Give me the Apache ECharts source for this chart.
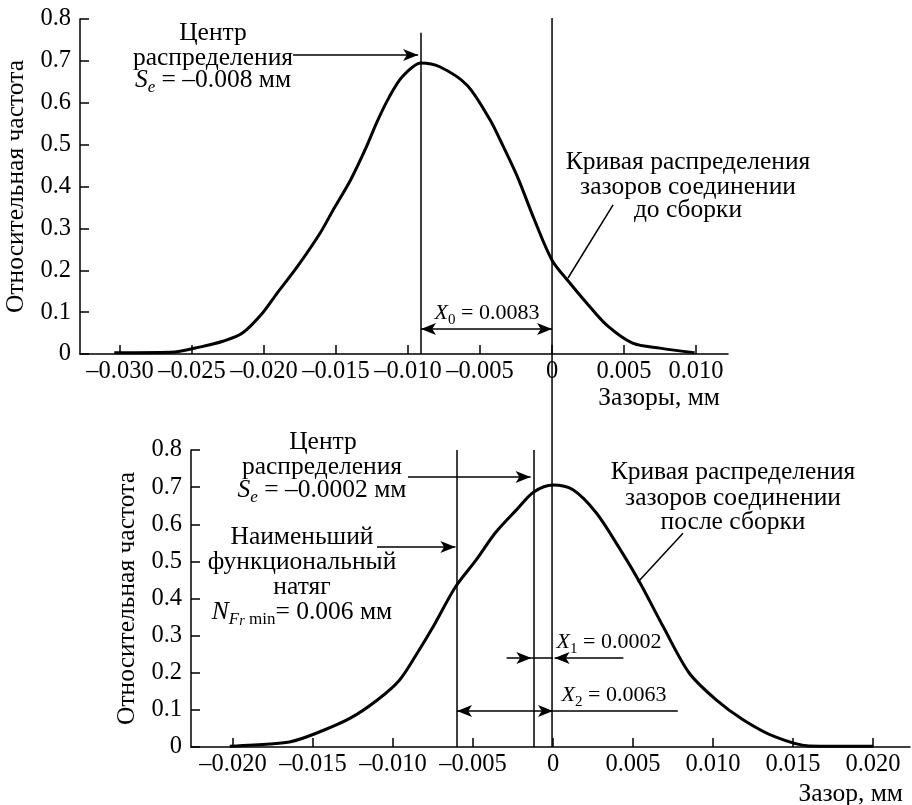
<!DOCTYPE html>
<html>
<head>
<meta charset="utf-8">
<script src="https://cdn.jsdelivr.net/npm/echarts@6/dist/echarts.min.js"></script>
<style>
html, body { margin: 0; padding: 0; background: #fff; }
#main { width: 912px; height: 805px; }
</style>
</head>
<body>
<div id="main"></div>
<script>
// кривая до сборки
var topX = [-0.0304, -0.0265, -0.0244, -0.0228, -0.0215, -0.0201, -0.0191, -0.0177, -0.0161, -0.0152,
    -0.0140, -0.0129, -0.0122, -0.0113, -0.0104, -0.0091, -0.0078, -0.0059, -0.0043, -0.0036,
    -0.0024, -0.0013, 0, 0.00125, 0.0024, 0.0038, 0.0056, 0.0075, 0.0099];
var topY = [0.003, 0.004, 0.017, 0.031, 0.05, 0.098, 0.145, 0.208, 0.289, 0.344,
    0.415, 0.494, 0.551, 0.614, 0.662, 0.695, 0.686, 0.642, 0.559, 0.511,
    0.423, 0.327, 0.224, 0.169, 0.122, 0.069, 0.026, 0.014, 0.003];
// кривая после сборки
var botX = [-0.0202, -0.0177, -0.0164, -0.0148, -0.0127, -0.0110, -0.0096, -0.0085, -0.0075, -0.0061,
    -0.0048, -0.0036, -0.0023, -0.0012, 0, 0.00125, 0.0027, 0.0041, 0.0054, 0.0069,
    0.0085, 0.0102, 0.0119, 0.0139, 0.0160, 0.0200];
var botY = [0.002, 0.008, 0.014, 0.037, 0.077, 0.126, 0.18, 0.252, 0.323, 0.431,
    0.504, 0.577, 0.638, 0.687, 0.706, 0.693, 0.631, 0.539, 0.445, 0.323,
    0.2, 0.127, 0.073, 0.027, 0.003, 0.002];

var topTicks = [-0.030, -0.025, -0.020, -0.015, -0.010, -0.005, 0, 0.005, 0.010];
var botTicks = [-0.020, -0.015, -0.010, -0.005, 0, 0.005, 0.010, 0.015, 0.020];

// положения вертикальных линий (по рисунку)
var topCenter = -0.0091;
var botCenter = -0.0012;
var botNmin = -0.006;

var FONT = 'Liberation Serif';
var FS = 25.5;    // подписи
var TFS = 24.5;   // деления
var XFS = 22;     // X0, X1, X2

function pairs(xs, ys) {
    var res = [];
    for (var i = 0; i < xs.length; i++) res.push([xs[i], ys[i]]);
    return res;
}
function fmtX(v) {
    if (Math.abs(v) < 1e-9) return '0';
    return (v < 0 ? '\u2013' : '') + Math.abs(v).toFixed(3);
}
function fmtY(v) {
    return v === 0 ? '0' : v.toFixed(1);
}

function xAxisOf(grid, min, max, ticks, name, pad) {
    return {
        type: 'value', gridIndex: grid, min: min, max: max,
        name: name, nameLocation: 'end', nameGap: 0,
        nameTextStyle: { color: '#000', fontFamily: FONT, fontSize: FS, align: 'right', verticalAlign: 'top', padding: pad },
        axisLine: { onZero: false, lineStyle: { color: '#000', width: 1.5 } },
        axisTick: { inside: true, length: 9, customValues: ticks, lineStyle: { color: '#000', width: 1.5 } },
        axisLabel: { customValues: ticks, formatter: fmtX, color: '#000', fontFamily: FONT, fontSize: TFS, margin: 5 },
        splitLine: { show: false }
    };
}
function yAxisOf(grid, gap) {
    return {
        type: 'value', gridIndex: grid, min: 0, max: 0.8, interval: 0.1,
        name: 'Относительная частота', nameLocation: 'middle', nameGap: gap,
        nameTextStyle: { color: '#000', fontFamily: FONT, fontSize: FS },
        axisLine: { show: true, onZero: false, lineStyle: { color: '#000', width: 1.5 } },
        axisTick: { show: true, inside: true, length: 9, lineStyle: { color: '#000', width: 1.5 } },
        axisLabel: { formatter: fmtY, color: '#000', fontFamily: FONT, fontSize: TFS, margin: 9 },
        splitLine: { show: false }
    };
}

function seg(x1, y1, x2, y2, s1, s2) {
    return [{ coord: [x1, y1], symbol: s1 || 'none' }, { coord: [x2, y2], symbol: s2 || 'none' }];
}

var rich = {
    n: { fontFamily: FONT, fontSize: FS, lineHeight: 32, color: '#000' },
    i: { fontFamily: FONT, fontSize: FS, fontStyle: 'italic', lineHeight: 32, color: '#000' },
    sub: { fontFamily: FONT, fontSize: 17, fontStyle: 'italic', lineHeight: 16, verticalAlign: 'bottom', color: '#000' },
    subF: { fontFamily: FONT, fontSize: 17, fontStyle: 'italic', lineHeight: 22, verticalAlign: 'bottom', color: '#000' },
    subr: { fontFamily: FONT, fontSize: 14, fontStyle: 'italic', lineHeight: 9, verticalAlign: 'bottom', color: '#000' },
    subm: { fontFamily: FONT, fontSize: 17, lineHeight: 11, verticalAlign: 'bottom', color: '#000' },
    xn: { fontFamily: FONT, fontSize: XFS, lineHeight: 30, color: '#000' },
    xi: { fontFamily: FONT, fontSize: XFS, fontStyle: 'italic', lineHeight: 30, color: '#000' },
    xs: { fontFamily: FONT, fontSize: 15, lineHeight: 16, verticalAlign: 'bottom', color: '#000' }
};
function txt(s, x, y) {
    return {
        type: 'text', x: x, y: y, silent: true,
        style: { text: s, rich: rich, font: FS + 'px "' + FONT + '"', fill: '#000',
            textAlign: 'center', textVerticalAlign: 'middle', align: 'center', verticalAlign: 'middle' }
    };
}

var arrowLine = { color: '#000', width: 1.5, type: 'solid' };

var chart = echarts.init(document.getElementById('main'));
var option = {
    backgroundColor: '#fff',
    animation: false,
    grid: [
        { left: 80, top: 19, width: 648, height: 335, containLabel: false, outerBoundsMode: 'none' },
        { left: 191, top: 450, width: 719, height: 297, containLabel: false, outerBoundsMode: 'none' },
        { left: 80, top: 18, width: 648, height: 729, containLabel: false, outerBoundsMode: 'none' }
    ],
    xAxis: [
        xAxisOf(0, -0.03278, 0.01222, topTicks, 'Зазоры, мм', [31, 8, 0, 0]),
        xAxisOf(1, -0.022625, 0.0223125, botTicks, 'Зазор, мм', [34, 7, 0, 0]),
        { type: 'value', gridIndex: 2, min: -0.03278, max: 0.01222, show: false }
    ],
    yAxis: [
        yAxisOf(0, 42),
        yAxisOf(1, 44),
        { type: 'value', gridIndex: 2, min: 0, max: 1, show: false }
    ],
    series: [
        {
            name: 'до сборки', type: 'line', xAxisIndex: 0, yAxisIndex: 0,
            data: pairs(topX, topY), smooth: 0.3, showSymbol: false,
            lineStyle: { color: '#000', width: 3 },
            markLine: {
                silent: true, animation: false, symbolSize: [9, 15],
                label: { show: false }, lineStyle: arrowLine,
                data: [
                    seg(topCenter, 0, topCenter, 0.767),
                    seg(-0.01799, 0.714, -0.0093, 0.714, 'none', 'arrow'),
                    seg(topCenter, 0.06, 0, 0.06, 'arrow', 'arrow'),
                    seg(0.00424, 0.356, 0.00111, 0.1815)
                ]
            }
        },
        {
            name: 'после сборки', type: 'line', xAxisIndex: 1, yAxisIndex: 1,
            data: pairs(botX, botY), smooth: 0.3, showSymbol: false,
            lineStyle: { color: '#000', width: 3 },
            markLine: {
                silent: true, animation: false, symbolSize: [9, 15],
                label: { show: false }, lineStyle: arrowLine,
                data: [
                    seg(botNmin, 0, botNmin, 0.8),
                    seg(botCenter, 0, botCenter, 0.8),
                    seg(-0.00906, 0.727, -0.0014, 0.727, 'none', 'arrow'),
                    seg(-0.011, 0.539, -0.0061, 0.539, 'none', 'arrow'),
                    seg(-0.0029, 0.24, -0.00135, 0.24, 'none', 'arrow'),
                    seg(-0.00135, 0.24, 0, 0.24),
                    seg(0.0044, 0.24, 0.0001, 0.24, 'none', 'arrow'),
                    seg(botNmin, 0.097, 0, 0.097, 'arrow', 'arrow'),
                    seg(0, 0.097, 0.0078, 0.097),
                    seg(0.008125, 0.576, 0.0053, 0.444)
                ]
            }
        },
        {
            name: 'ноль', type: 'line', xAxisIndex: 2, yAxisIndex: 2,
            data: [[0, 0], [0, 1]], showSymbol: false, silent: true,
            lineStyle: { color: '#000', width: 1.5 }
        }
    ],
    graphic: [
        txt('Центр', 213, 33),
        txt('распределения', 213, 58),
        txt('{i|S}{sub|e}{n| = \u20130.008 мм}', 213, 80),
        txt('Кривая распределения', 688, 162),
        txt('зазоров соединении', 688, 187),
        txt('до сборки', 688, 210),
        txt('{xi|X}{xs|0}{xn| = 0.0083}', 487, 313),

        txt('Центр', 323, 442),
        txt('распределения', 322, 467),
        txt('{i|S}{sub|e}{n| = \u20130.0002 мм}', 322, 490),
        txt('Наименьший', 302, 537),
        txt('функциональный', 302, 562),
        txt('натяг', 302, 587),
        txt('{i|N}{subF|F}{subr|r}{subm| min}{n|= 0.006 мм}', 302, 612),
        txt('Кривая распределения', 733, 472),
        txt('зазоров соединении', 733, 498),
        txt('после сборки', 733, 522),
        txt('{xi|X}{xs|1}{xn| = 0.0002}', 609, 642),
        txt('{xi|X}{xs|2}{xn| = 0.0063}', 614, 695)
    ]
};
chart.setOption(option);
</script>
</body>
</html>
